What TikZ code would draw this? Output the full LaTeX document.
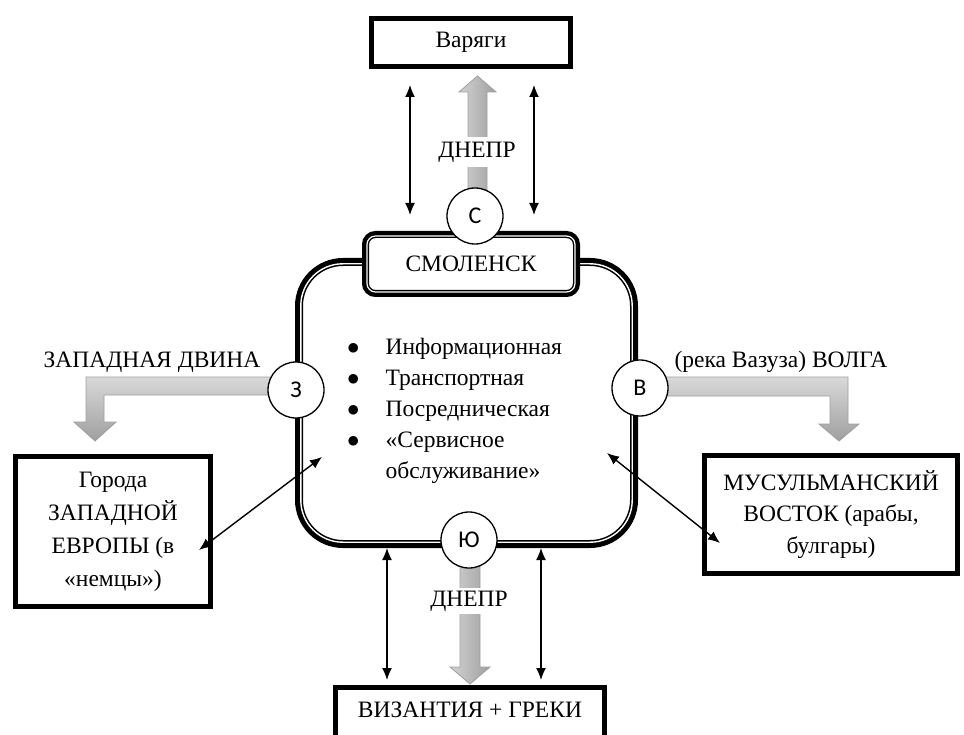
\documentclass[tikz,border=0pt]{standalone}
\usepackage{fontspec}
\setmainfont{Liberation Serif}
\newfontfamily\circfont{Carlito}
\usetikzlibrary{arrows.meta}
\begin{document}
\begin{tikzpicture}[x=1pt,y=-1pt,
  txt/.style={font=\fontsize{23.5}{31}\selectfont, inner sep=0pt},
  heavybox/.style={draw, line width=5.5pt, fill=white, inner sep=0pt, align=center, font=\fontsize{23.5}{33}\selectfont},
  ring/.style={circle, draw, line width=1.3pt, fill=white, minimum size=56pt, inner sep=0pt, font=\circfont\fontsize{24}{24}\selectfont},
  river/.style={draw=gray!75, line width=0.8pt},
  riververt/.style={river, left color=gray!35, right color=gray!75},
  riverhor/.style={river, top color=gray!30, bottom color=gray!75},
  link/.style={line width=1.4pt, {Latex[length=12pt,width=10pt]}-{Latex[length=12pt,width=10pt]}}
]
\clip (0,0) rectangle (964,735);
\fill[white] (0,0) rectangle (964,735);

% main city box (double border)
\node (city) [draw, line width=8pt, rounded corners=44pt, minimum width=335pt, minimum height=282pt, inner sep=0pt] at (466.5,403) {};
\node (cityin) [draw=white, line width=1.4pt, rounded corners=42pt, minimum width=331.4pt, minimum height=278.4pt, inner sep=0pt] at (466.5,403) {};

% Smolensk label box
\node (smol) [draw, line width=7pt, fill=white, rounded corners=10pt, minimum width=211pt, minimum height=59pt, txt] at (471,264) {СМОЛЕНСК};
\node (smolin) [draw=white, line width=1.2pt, rounded corners=8.5pt, minimum width=208pt, minimum height=56pt, inner sep=0pt] at (471,264) {};

% rivers (gray block arrows)
\path[riververt] (468,192) -- (468,92) -- (459,92) -- (477.5,76) -- (496,92) -- (487,92) -- (487,192) -- cycle;
\path[riververt] (460,560) -- (460,667) -- (450,667) -- (470,684) -- (490,667) -- (480,667) -- (480,560) -- cycle;
\path[riverhor] (272,377) -- (86,377) -- (86,422) -- (74,422) -- (95,441) -- (116,422) -- (104,422) -- (104,395) -- (272,395) -- cycle;
\path[riverhor] (663,377) -- (848,377) -- (848,424) -- (859,424) -- (839,441) -- (819,424) -- (830,424) -- (830,396) -- (663,396) -- cycle;

\node (dnN) [txt, fill=white, inner ysep=5pt, inner xsep=2pt] at (477,152) {ДНЕПР};
\node (dnS) [txt, fill=white, inner ysep=3pt, inner xsep=2pt] at (469,601) {ДНЕПР};

% direction circles
\node (north) [ring] at (475,216) {С};
\node (westc) [ring] at (296,390) {З};
\node (eastc) [ring] at (640,388) {В};
\node (south) [ring] at (469,540) {Ю};

% outer boxes
\node (var) [heavybox, minimum width=199pt, minimum height=48pt] at (471,42.5) {Варяги};
\node (west) [heavybox, minimum width=195pt, minimum height=150pt] at (113,531.5) {Города\\ЗАПАДНОЙ\\ЕВРОПЫ (в\\«немцы»)};
\node (east) [heavybox, minimum width=253pt, minimum height=118pt, font=\fontsize{23.5}{31.5}\selectfont] at (831,514.5) {МУСУЛЬМАНСКИЙ\\ВОСТОК (арабы,\\булгары)};
\node (byz) [heavybox, minimum width=269pt, minimum height=80pt] at (470,727.5) {};
\node (byzt) [txt] at (470,710) {ВИЗАНТИЯ + ГРЕКИ};

% river labels
\node (westlbl) [txt] at (152,362) {ЗАПАДНАЯ ДВИНА};
\node (eastlbl) [txt] at (781,362) {(река Вазуза) ВОЛГА};

% functions list
\node (list) [txt, anchor=west] at (347,410) {\begin{tabular}{@{}l@{\hspace{26pt}}l@{}}
$\bullet$ & Информационная\\
$\bullet$ & Транспортная\\
$\bullet$ & Посредническая\\
$\bullet$ & «Сервисное\\
 & обслуживание»
\end{tabular}};

% two-way links
\coordinate (nl1) at (410,85);  \coordinate (nl2) at (410,215);
\coordinate (nr1) at (534,85);  \coordinate (nr2) at (534,215);
\coordinate (sl1) at (387,548); \coordinate (sl2) at (387,680);
\coordinate (sr1) at (541,548); \coordinate (sr2) at (541,680);
\coordinate (wl1) at (199,550); \coordinate (wl2) at (322,457);
\coordinate (el1) at (607,453); \coordinate (el2) at (720,543);
\draw[link] (nl1) -- (nl2);
\draw[link] (nr1) -- (nr2);
\draw[link] (sl1) -- (sl2);
\draw[link] (sr1) -- (sr2);
\draw[link] (wl1) -- (wl2);
\draw[link] (el1) -- (el2);
\end{tikzpicture}
\end{document}
